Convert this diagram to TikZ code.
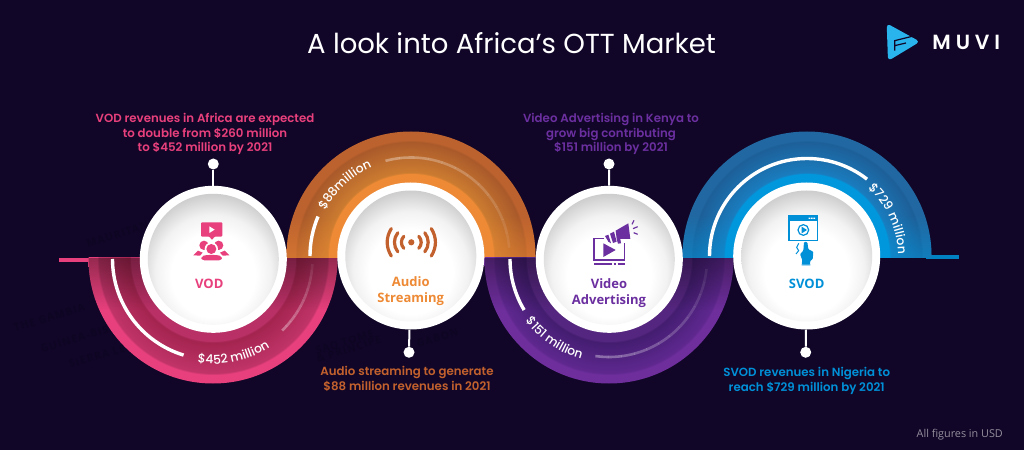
\documentclass[tikz,border=0pt]{standalone}
\usepackage{fontspec}
\usetikzlibrary{decorations.text,fadings,calc}
\setmainfont{Poppins}
\newfontfamily\descfont{Poppins SemiBold}
\newfontfamily\ringfont{Poppins Medium}
\newfontfamily\logofont[LetterSpace=24]{Poppins SemiBold}
\newfontfamily\openfont{Open Sans}
\newfontfamily\mapfont[LetterSpace=10]{Open Sans}
\definecolor{bgc}{HTML}{110627}
\definecolor{mapc}{HTML}{0E0523}
\definecolor{pinkc}{HTML}{E8407C}
\definecolor{orangec}{HTML}{EE8A35}
\definecolor{orangetxt}{HTML}{C2612D}
\definecolor{purplec}{HTML}{6B2FA0}
\definecolor{bluec}{HTML}{0090D8}
\definecolor{logoc}{HTML}{29B4EE}
\definecolor{pA}{HTML}{B93066}\definecolor{pB}{HTML}{A3244F}\definecolor{pC}{HTML}{C13468}\definecolor{pD}{HTML}{E8407C}
\definecolor{oA}{HTML}{EE8A35}\definecolor{oB}{HTML}{CC7C30}\definecolor{oC}{HTML}{A9592A}\definecolor{oD}{HTML}{BC622E}
\definecolor{uA}{HTML}{55267F}\definecolor{uB}{HTML}{431D70}\definecolor{uC}{HTML}{5F2890}\definecolor{uD}{HTML}{6E2E9C}
\definecolor{bA}{HTML}{0097DC}\definecolor{bB}{HTML}{1A7CBE}\definecolor{bC}{HTML}{1D5F98}\definecolor{bD}{HTML}{2168A2}
\pgfdeclareradialshading{pinkring}{\pgfpointorigin}{color(0bp)=(pA);color(16.6bp)=(pA);color(16.7bp)=(pB);color(23.05bp)=(pC);color(23.15bp)=(pD);color(50bp)=(pD)}
\pgfdeclareradialshading{orangering}{\pgfpointorigin}{color(0bp)=(oA);color(16.6bp)=(oA);color(16.7bp)=(oB);color(23.05bp)=(oC);color(23.15bp)=(oD);color(50bp)=(oD)}
\pgfdeclareradialshading{purplering}{\pgfpointorigin}{color(0bp)=(uA);color(16.6bp)=(uA);color(16.7bp)=(uB);color(23.05bp)=(uC);color(23.15bp)=(uD);color(50bp)=(uD)}
\pgfdeclareradialshading{bluering}{\pgfpointorigin}{color(0bp)=(bA);color(16.6bp)=(bA);color(16.7bp)=(bB);color(23.05bp)=(bC);color(23.15bp)=(bD);color(50bp)=(bD)}
\pgfdeclareradialshading{discshade}{\pgfpoint{0bp}{-9bp}}{color(0bp)=(white);color(16bp)=(white);color(22bp)=(white!95!black);color(28bp)=(white!82!black);color(34bp)=(white!70!black);color(50bp)=(white!70!black)}
\tikzfading[name=fadetop,top color=transparent!65,bottom color=transparent!100]
\tikzfading[name=fadebase,top color=transparent!100,bottom color=transparent!55]
\tikzset{
  discnode/.style={circle,fill=white,minimum size=147pt,inner sep=0pt},
  pindot/.style={circle,fill=white,minimum size=11pt,inner sep=0pt},
  pinline/.style={draw=white,line width=2pt},
  desc/.style={font=\descfont\fontsize{11.8}{14.5}\selectfont,align=center,anchor=base,inner sep=0pt},
  lab/.style={font=\openfont\bfseries\fontsize{13}{15.7}\selectfont,align=center,anchor=base,inner sep=0pt},
  prog/.style={white,line width=3.4pt},
  mapword/.style={mapc,font=\mapfont\bfseries\fontsize{10.5}{10.5}\selectfont,anchor=base west,inner sep=0pt}
}
\newcommand{\lowring}[3]{\begin{scope}\clip (#1-130,192) rectangle (#1+130,50);\shade[shading=#3] (#1,#2) circle (124.5);
 \clip (#1,#2) circle (124.5);\fill[black,path fading=fadetop] (#1-130,192) rectangle (#1+130,140);\end{scope}}
\newcommand{\upring}[4]{\begin{scope}\clip (#1-130,192) rectangle (#1+130,330);\shade[shading=#3] (#1,#2) circle (124.5);
 \clip (#1,#2) circle (124.5);\fill[#4,path fading=fadebase] (#1-130,235) rectangle (#1+130,192);\end{scope}}
\newcommand{\myarc}[5][]{\draw[prog,#1] ($(#2)+(#4:#3)$) arc[start angle=#4,end angle=#5,radius=#3];}
\newcommand{\fainter}[4]{\foreach \i in {0,...,11}{\pgfmathsetmacro{\aa}{#3+(#4-#3)*\i/12}\pgfmathsetmacro{\bb}{#3+(#4-#3)*(\i+1.02)/12}\pgfmathsetmacro{\oo}{0.34-0.26*\i/11}
 \draw[white,line width=2.6pt,opacity=\oo] ($(#1)+(\aa:#2)$) arc[start angle=\aa,end angle=\bb,radius=#2];}}
\newcommand{\arctext}[5]{\path[decorate,decoration={text along path,text align=center,text={|\ringfont\fontsize{#5}{#5}\selectfont\color{white}|#4}}] ($(#1)+(#2)$) #3;}
\begin{document}
\begin{tikzpicture}[x=1pt,y=1pt]
\useasboundingbox (0,0) rectangle (1024,450);
\fill[bgc] (0,0) rectangle (1024,450);
% faint map names
\node[mapword,rotate=17] (m1) at (15,118) {THE GAMBIA};
\node[mapword,rotate=17] (m2) at (42,97) {GUINEA-BISSAU};
\node[mapword,rotate=16] (m3) at (70,82) {SIERRA LEONE};
\node[mapword,rotate=18] (m4) at (88,202) {MAURITANIA};
\node[mapword,rotate=18] (m5) at (317,95) {SAO TOME};
\node[mapword,rotate=18] (m6) at (318,87) {\& PRINCIPE};
\node[mapword,rotate=18] (m7) at (418,102) {GABON};
% rings
\coordinate (cv) at (213,191);\coordinate (ca) at (411,194);\coordinate (cd) at (609,191);\coordinate (cs) at (807,194);
\fill[pinkc] (59,188) rectangle (92,192);
\fill[bluec!90!black] (926,191) rectangle (958.7,195);
\lowring{213}{191}{pinkring}
\upring{411}{194}{orangering}{oA}
\lowring{609}{191}{purplering}
\upring{807}{194}{bluering}{bA}
% progress arcs
\myarc{cv}{100.5}{-180}{-107}
\fainter{cv}{99.5}{-46}{-3}
\myarc{ca}{101}{180}{157}
\fainter{ca}{98.5}{105}{5}
\myarc{cd}{99}{-180}{-149}
\fainter{cd}{98}{-98}{-6}
\myarc{cs}{97.5}{180}{52}
\arctext{cv}{-98.7:105}{arc[start angle=-98.7,end angle=-57,radius=105]}{{\$}452 million}{12.3}
\arctext{ca}{154:97}{arc[start angle=154,end angle=112,radius=97]}{{\$}88million}{12.3}
\arctext{cd}{-143:104}{arc[start angle=-143,end angle=-106,radius=104]}{{\$}151 million}{12.3}
\arctext{cs}{48:91}{arc[start angle=48,end angle=1,radius=91]}{{\$}729 million}{12.3}
% discs
\node[discnode] (vod) at (213.3,190.7) {};
\node[discnode] (audio) at (410.8,194) {};
\node[discnode] (video) at (609.3,190.7) {};
\node[discnode] (svod) at (806.7,194) {};
\foreach \n in {vod,audio,video,svod}{\shade[shading=discshade] (\n.center) circle (65.5);}
% pins
\node[pindot] (vodpin) at (213.3,286) {};
\node[pindot] (audiopin) at (409,97.7) {};
\node[pindot] (videopin) at (609,286) {};
\node[pindot] (svodpin) at (805.7,97.7) {};
\draw[pinline] (vodpin) -- (vod);
\draw[pinline] (audiopin) -- (audio);
\draw[pinline] (videopin) -- (video);
\draw[pinline] (svodpin) -- (svod);
% title and texts
\node[white,anchor=base,inner sep=0pt,font=\fontsize{27.5}{27.5}\selectfont] (title) at (511.5,396.7) {A look into Africa’s OTT Market};
\node[desc,text=pinkc] (d1) at (205,298.3) {VOD revenues in Africa are expected\\to double from \$260 million\\to \$452 million by 2021};
\node[desc,text=orangetxt] (d2) at (407,60) {Audio streaming to generate\\\$88 million revenues in 2021};
\node[desc,text=purplec] (d3) at (611,298) {Video Advertising in Kenya to\\grow big contributing\\\$151 million by 2021};
\node[desc,text=bluec] (d4) at (806.7,59) {SVOD revenues in Nigeria to\\reach \$729 million by 2021};
\node[lab,text=pinkc] (l1) at (209.3,162) {VOD};
\node[lab,text=orangec] (l2) at (410.7,148) {Audio\\Streaming};
\node[lab,text=purplec] (l3) at (609,145.7) {Video\\Advertising};
\node[lab,text=bluec] (l4) at (806.7,162) {SVOD};
\node[anchor=base east,inner sep=0pt,text=white!55!bgc,font=\openfont\fontsize{10.8}{10.8}\selectfont] (note) at (1003,13) {All figures in USD};
% VOD icon (zoom coordinates)
\begin{scope}[shift={(180,240)},x=0.3333pt,y=-0.3333pt]
 \fill[pinkc,rounded corners=1pt] (63,37) -- (127,37) -- (127,80) -- (103,80) -- (96,91) -- (89,80) -- (63,80) -- cycle;
 \fill[white] (88,49) -- (88,69) -- (104,59) -- cycle;
 \fill[pinkc] (72,106) circle (14) (116,106) circle (14);
 \fill[white] (94,117) circle (20);
 \fill[white] (60,122) rectangle (128,132);
 \fill[pinkc] (94,117) circle (15);
 \fill[pinkc] (40,136) -- (54,122) -- (68,128) -- (60,137) -- cycle;
 \fill[pinkc] (148,136) -- (134,122) -- (120,128) -- (128,137) -- cycle;
 \fill[pinkc,rounded corners=3pt] (64,151) -- (64,139) -- (78,135) -- (112,135) -- (126,139) -- (126,151) -- cycle;
\end{scope}
% audio icon
\begin{scope}[shift={(411.3,207.7)}]
 \fill[orangetxt] (0,0) circle (3.1);
 \foreach \s in {1,-1}{
 \draw[orangetxt,line width=3.2pt,line cap=round] (\s*7.5,6) .. controls (\s*10.7,2.5) and (\s*10.7,-2.5) .. (\s*7.5,-6);
 \draw[orangetxt,line width=3.2pt,line cap=round] (\s*13.5,9.5) .. controls (\s*18,4) and (\s*18,-4) .. (\s*13.5,-9.5);
 \draw[orangetxt,line width=3.2pt,line cap=round] (\s*20,13.7) .. controls (\s*25.5,5) and (\s*25.5,-5) .. (\s*20,-13.7);}
\end{scope}
% video icon
\begin{scope}[shift={(585,235)},x=0.3333pt,y=-0.3333pt]
 \draw[purplec,line width=1.5pt] (58,70) -- (27,70) -- (27,135) -- (118,135) -- (118,84);
 \fill[purplec] (55,85) -- (55,126) -- (92,105) -- cycle;
 \draw[purplec,line width=1.3pt] (28,147) -- (80,147) (86,147) -- (92,147) (98,147) -- (120,147);
 \fill[purplec] (92,47) -- (130,25) -- (136,72) -- (106,72) -- (108,85) -- (99,86) -- (95,72) -- cycle;
 \fill[purplec] (75,56) -- (87,50) -- (95,80) -- (84,84) -- cycle;
 \fill[purplec] (60,63) -- (70,59) -- (78,85) -- (70,80) -- cycle;
 \draw[purplec,line width=1.2pt] (141,28) -- (147,16) (144,41) -- (158,35) (146,53) -- (158,58);
\end{scope}
% SVOD icon
\begin{scope}[shift={(780,240)},x=0.3333pt,y=-0.3333pt]
 \draw[bluec,line width=1.2pt,fill=white] (27,18) rectangle (112,92);
 \fill[bluec] (27,18) rectangle (112,32);
 \fill[white] (86,23) rectangle (91,27) (93,23) rectangle (98,27) (100,23) rectangle (105,27);
 \draw[bluec,line width=1.2pt] (70,60) circle (16);
 \fill[bluec] (65,50) -- (65,70) -- (81,60) -- cycle;
 \fill[bluec,rounded corners=1pt] (72,96) -- (82,96) -- (85,118) -- (100,125) -- (98,148) -- (90,153) -- (91,163) -- (65,163) -- (67,151) -- (60,132) -- (70,122) -- cycle;
 \draw[bluec,line width=1pt] (65,165) -- (91,165) (56,100) -- (50,112) -- (56,122) -- (48,132);
\end{scope}
% logo
\begin{scope}[shift={(860,450)},x=0.3333pt,y=-0.3333pt]
 \fill[logoc,rounded corners=4pt] (80,70) -- (180,125) -- (84,183) -- cycle;
 \draw[bgc,line width=1.2pt] (160,108) -- (104,122) -- (104,152) (104,137) -- (138,129);
\end{scope}
\node[white,anchor=base west,inner sep=0pt,font=\logofont\fontsize{20.5}{20.5}\selectfont] (logo) at (932.2,400.7) {MUVI};
\end{tikzpicture}
\end{document}
